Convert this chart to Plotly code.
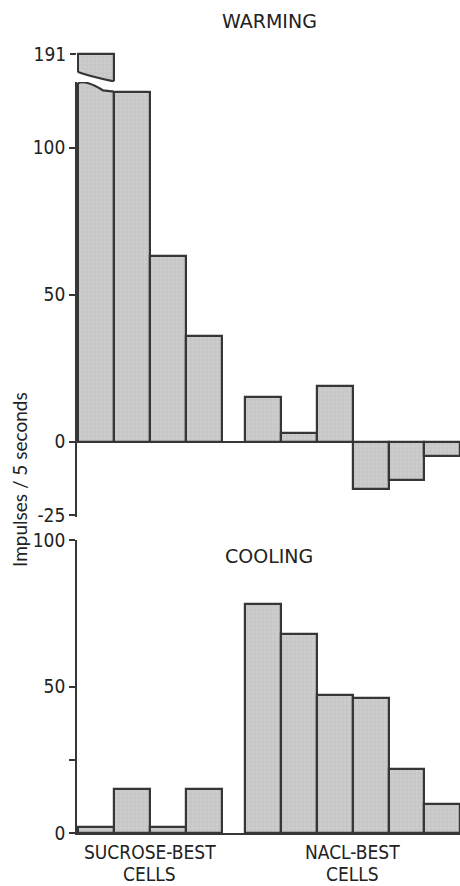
import plotly.graph_objects as go

# ---- data ----
sucrose_labels = ["S1", "S2", "S3", "S4"]
nacl_labels = ["N1", "N2", "N3", "N4", "N5", "N6"]
warming_sucrose = [191, 119, 63, 36]
warming_nacl = [15, 3, 19, -16, -13, -5]
cooling_sucrose = [2, 15, 2, 15]
cooling_nacl = [78, 68, 47, 46, 22, 10]
group_labels = ["SUCROSE-BEST", "NACL-BEST"]
group_sub = ["CELLS", "CELLS"]

# ---- geometry helpers ----
W, H = 460, 886
ML, MR, MT, MB = 77, 0, 51, 53
PW, PH = W - ML - MR, H - MT - MB
GAP = 0.65  # gap between groups, in bar widths

def py(px):  # pixel y -> paper y
    return (H - MB - px) / PH

def pxx(px):  # pixel x -> paper x
    return (px - ML) / PW

xs_suc = [i for i in range(len(sucrose_labels))]
xs_nacl = [len(sucrose_labels) + GAP + i for i in range(len(nacl_labels))]
x_all = xs_suc + xs_nacl
warm_all = warming_sucrose + warming_nacl
cool_all = cooling_sucrose + cooling_nacl

x_range = [-0.528, x_all[-1] + 0.49]

EDGE = "#363636"
FILL = "#c6c6c6"
marker = dict(color=FILL, line=dict(color=EDGE, width=2.2),
              pattern=dict(shape="+", size=4, solidity=0.25,
                           fgcolor="#aaaaaa", bgcolor="#cdcdcd"))

fig = go.Figure()
fig.add_trace(go.Bar(x=x_all, y=warm_all, width=1, marker=marker,
                     xaxis="x", yaxis="y", showlegend=False))
fig.add_trace(go.Bar(x=x_all[:1], y=warm_all[:1], width=1, marker=marker,
                     xaxis="x3", yaxis="y3", showlegend=False))
fig.add_trace(go.Bar(x=x_all, y=cool_all, width=1, marker=marker,
                     xaxis="x2", yaxis="y2", showlegend=False))

TICKFONT = dict(family="Liberation Sans Narrow, DejaVu Sans Condensed, Arial", size=19, color="#222")
TEXTFONT = dict(family="DejaVu Sans Condensed, DejaVu Sans", size=19, color="#222")
TITLEFONT = dict(family="DejaVu Sans", size=19, color="#222")

yscale = 2.94
main_top = (441.5 - 82) / yscale
main_bot = -(517 - 441.5) / yscale
stub_top = 192
stub_bot = stub_top - (82 - 51) / yscale

common_y = dict(showgrid=False, ticks="outside", ticklen=6, tickwidth=1.5,
                tickcolor=EDGE, tickfont=TICKFONT, linecolor=EDGE, linewidth=1.8,
                fixedrange=True)
common_x = dict(range=x_range, showgrid=False, zeroline=False, showticklabels=False,
                ticks="", fixedrange=True)

fig.update_layout(
    width=W, height=H, margin=dict(l=ML, r=MR, t=MT, b=MB),
    plot_bgcolor="white", paper_bgcolor="white", bargap=0,
    xaxis=dict(**common_x, anchor="y", showline=False),
    xaxis3=dict(**common_x, anchor="y3", matches="x", showline=False),
    xaxis2=dict(**common_x, anchor="y2", showline=True, linecolor=EDGE, linewidth=1.8),
    yaxis=dict(**common_y, domain=[py(517), py(82)], range=[main_bot, main_top],
               tickvals=[-25, 0, 50, 100], ticktext=["-25", "0", "50", "100"],
               showline=True, zeroline=True, zerolinecolor=EDGE, zerolinewidth=1.8,
               anchor="x"),
    yaxis3=dict(**common_y, domain=[py(82), 1], range=[stub_bot, stub_top],
                tickvals=[191], ticktext=["191"], showline=False, zeroline=False,
                anchor="x3"),
    yaxis2=dict(**common_y, domain=[0, py(540)], range=[0, 100],
                tickvals=[0, 25, 50, 100], ticktext=["0", "", "50", "100"],
                showline=True, zeroline=False, anchor="x2"),
)

# ---- axis break on the first (off-scale) bar ----
b_left, b_right = x_all[0] - 0.5, x_all[0] + 0.5
next_h = warm_all[1]
# lower piece: wavy top
fig.add_shape(type="path", xref="x", yref="y", layer="above",
              path=(f"M {b_left-0.05},{main_top+2} L {b_left-0.05},{main_top-0.4} "
                    f"C {b_left+0.12},{main_top+0.3} {b_left+0.35},{main_top-0.2} {b_left+0.7},{next_h+0.4} "
                    f"L {b_right+0.03},{next_h+0.2} L {b_right+0.03},{main_top+2} Z"),
              fillcolor="white", line=dict(width=0))
fig.add_shape(type="path", xref="x", yref="y", layer="above",
              path=(f"M {b_left},{main_top-0.4} "
                    f"C {b_left+0.12},{main_top+0.3} {b_left+0.35},{main_top-0.2} {b_left+0.7},{next_h+0.4} "
                    f"L {b_right},{next_h}"),
              line=dict(color=EDGE, width=2.2))
# upper piece: slanted bottom
s_left = stub_top - (72 - 51) / yscale
s_right = stub_bot + 0.2
fig.add_shape(type="path", xref="x3", yref="y3", layer="above",
              path=(f"M {b_left-0.05},{s_left} L {b_right+0.05},{s_right} "
                    f"L {b_right+0.05},{stub_bot-1} L {b_left-0.05},{stub_bot-1} Z"),
              fillcolor="white", line=dict(width=0))
fig.add_shape(type="path", xref="x3", yref="y3", layer="above",
              path=f"M {b_left},{s_left} Q {b_left+0.3},{s_left-1.4} {b_right},{s_right}",
              line=dict(color=EDGE, width=2.2))

# ---- texts ----
ann = []
ann.append(dict(text="WARMING", x=pxx(269), y=py(21), xref="paper", yref="paper",
                showarrow=False, font=TITLEFONT, xanchor="center", yanchor="middle"))
ann.append(dict(text="COOLING", x=pxx(269), y=py(556), xref="paper", yref="paper",
                showarrow=False, font=TITLEFONT, xanchor="center", yanchor="middle"))
centers = [sum(xs_suc) / len(xs_suc), sum(xs_nacl) / len(xs_nacl)]
for c, lab, sub in zip(centers, group_labels, group_sub):
    ann.append(dict(text=lab, x=c, y=py(852), xref="x2", yref="paper", showarrow=False,
                    font=TEXTFONT, xanchor="center", yanchor="middle"))
    ann.append(dict(text=sub, x=c, y=py(886), xref="x2", yref="paper", showarrow=False,
                    font=TEXTFONT, xanchor="center", yanchor="bottom", borderpad=0))
ann.append(dict(text="Impulses / 5 seconds", x=pxx(19), y=py(480), xref="paper", yref="paper",
                showarrow=False, textangle=-90, xanchor="center", yanchor="middle",
                font=dict(family="Lato, Open Sans, sans-serif", size=19, color="#222")))
fig.update_layout(annotations=ann)

fig.write_html("out.html")
